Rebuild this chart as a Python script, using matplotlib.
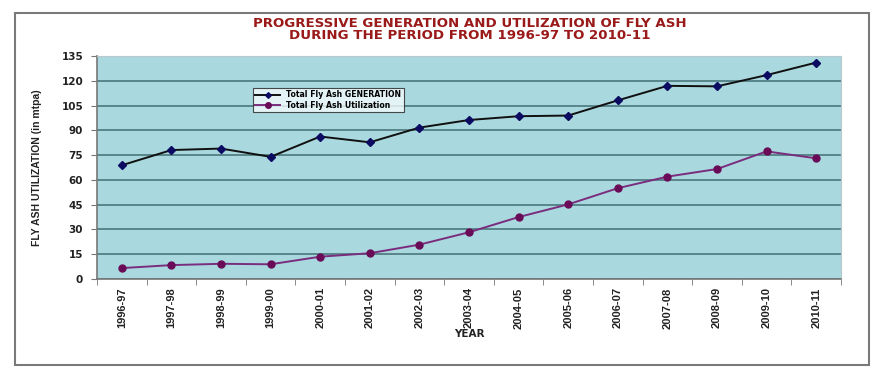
import numpy as np
import matplotlib.pyplot as plt
from matplotlib.patches import Rectangle

# Data (million tonnes per annum)
years = ['1996-97', '1997-98', '1998-99', '1999-00', '2000-01', '2001-02',
         '2002-03', '2003-04', '2004-05', '2005-06', '2006-07', '2007-08',
         '2008-09', '2009-10', '2010-11']
generation = [68.9, 78.1, 79.0, 74.0, 86.3, 82.8, 91.7, 96.3, 98.6, 99.0,
              108.2, 117.0, 116.7, 123.5, 131.1]
utilization = [6.6, 8.4, 9.2, 8.9, 13.5, 15.6, 20.8, 28.3, 37.5, 45.2,
               55.0, 62.0, 66.6, 77.3, 73.1]
y_ticks = [0, 15, 30, 45, 60, 75, 90, 105, 120, 135]

narrow = ['Liberation Sans Narrow', 'Liberation Sans', 'DejaVu Sans']

fig = plt.figure(figsize=(8.85, 3.79), dpi=100)
fig.patch.set_facecolor('white')

# outer frame around the whole chart
fig.patches.append(Rectangle((0.017, 0.037), 0.965, 0.929, transform=fig.transFigure,
                             fill=False, edgecolor='#7a7a7a', linewidth=1.5))

ax = fig.add_axes([0.1096, 0.2639, 0.8407, 0.588])
ax.set_facecolor('#a9d8de')

x = np.arange(len(years))
ax.plot(x, generation, color='#101010', linewidth=1.4, marker='D', markersize=3.6,
        markerfacecolor='#0b0b62', markeredgecolor='#0b0b62',
        label='Total Fly Ash GENERATION')
ax.plot(x, utilization, color='#7a2d7e', linewidth=1.4, marker='o', markersize=5,
        markerfacecolor='#6a0b58', markeredgecolor='#6a0b58',
        label='Total Fly Ash Utilization')

ax.set_xlim(-0.5, len(years) - 0.5)
ax.set_ylim(0, 135)
ax.set_yticks(y_ticks)
ax.yaxis.grid(True, color='#426f74', linewidth=1.1)
ax.set_axisbelow(True)

ax.set_xticks(x)
ax.set_xticklabels(years, rotation=90, fontsize=8, fontweight='bold', family=narrow,
                   color='#222222')
ax.set_xticks(np.arange(-0.5, len(years), 1.0), minor=True)
ax.tick_params(axis='x', which='major', length=0, pad=6)
ax.tick_params(axis='x', which='minor', length=4, color='#777777', direction='out')
ax.tick_params(axis='y', length=4, color='#777777', pad=6)
for lab in ax.get_yticklabels():
    lab.set_fontsize(7.5)
    lab.set_fontweight('bold')
    lab.set_color('#222222')

for side in ['left', 'bottom']:
    ax.spines[side].set_color('#777777')
    ax.spines[side].set_linewidth(1.2)
for side in ['top', 'right']:
    ax.spines[side].set_color('#b8c8cc')
    ax.spines[side].set_linewidth(0.8)

ax.set_ylabel('FLY ASH UTILIZATION (in mtpa)', fontsize=7.5, fontweight='bold',
              family=narrow, color='#222222', labelpad=14)
ax.set_xlabel('YEAR', fontsize=7.5, fontweight='bold', color='#222222', labelpad=0)

leg = ax.legend(loc='upper left', bbox_to_anchor=(0.2097, 0.8565), borderaxespad=0,
                prop={'weight': 'bold', 'size': 5.6}, frameon=True,
                fancybox=False, handlelength=3.2, handletextpad=0.8,
                borderpad=0.3, labelspacing=0.15, markerscale=0.8)
leg.get_frame().set_edgecolor('#222222')
leg.get_frame().set_linewidth(0.8)
leg.get_frame().set_facecolor('#f4fafb')

fig.text(0.531, 0.922, 'PROGRESSIVE GENERATION AND UTILIZATION OF FLY ASH\n'
         'DURING THE PERIOD FROM 1996-97 TO 2010-11',
         ha='center', va='center', fontsize=9.6, fontweight='bold',
         color='#9a1a1a', linespacing=0.92)

fig.savefig('out.png', dpi=100)
